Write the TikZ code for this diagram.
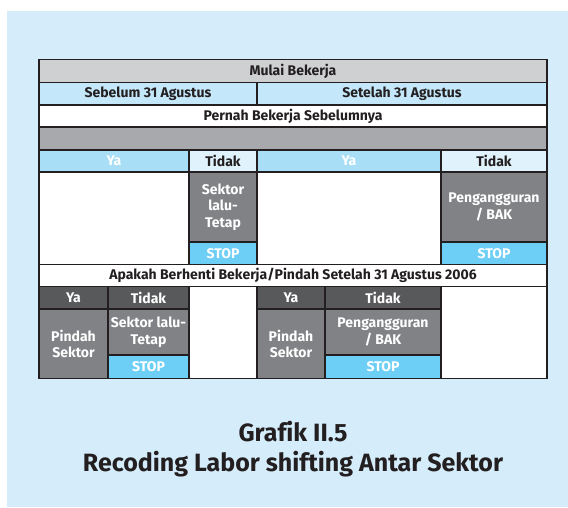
\documentclass[tikz,border=0pt]{standalone}
\usepackage{fontspec}
\setmainfont[Ligatures=NoCommon]{Fira Sans}
\usepackage{tikz}
\usepackage{xcolor}

\definecolor{bgblue}{HTML}{D5EDFA}
\definecolor{linec}{HTML}{231F20}
\definecolor{lgray}{HTML}{CFD0D2}
\definecolor{mgray}{HTML}{A7A9AC}
\definecolor{dgray}{HTML}{808285}
\definecolor{hgray}{HTML}{58595B}
\definecolor{rowblue}{HTML}{C4E8F9}
\definecolor{yablue}{HTML}{A9DEF7}
\definecolor{tdkblue}{HTML}{E0F3FC}
\definecolor{stopc}{HTML}{6DCFF6}

\begin{document}
\begin{tikzpicture}[x=1pt,y=-1pt,
  cell/.style={draw=linec,line width=1.2pt,inner sep=0pt,align=center,
    font=\fontsize{14}{16.5}\selectfont\bfseries,text=linec},
  wcell/.style={cell,text=white},
  title/.style={font=\fontsize{25}{29}\selectfont\bfseries,text=linec}]
\useasboundingbox (0,0) rectangle (568,507);
\fill[bgblue] (7.4,10.8) rectangle (568,507);
%\node at (293,30) {};
\node[cell,fill=lgray,minimum width=508,minimum height=23] (mulai) at (293,71) {Mulai Bekerja};
\node[cell,fill=rowblue,minimum width=218,minimum height=22.5] (sebelum) at (148,93.75) {Sebelum 31 Agustus};
\node[cell,fill=rowblue,minimum width=290,minimum height=22.5] (setelah) at (402,93.75) {Setelah 31 Agustus};
\node[cell,fill=white,minimum width=508,minimum height=22] (pernah) at (293,116) {Pernah Bekerja Sebelumnya};
\node[cell,fill=mgray,minimum width=508,minimum height=23] (kosong) at (293,138.5) {};
\node[wcell,fill=yablue,minimum width=150,minimum height=22] (ya1) at (114,161) {Ya};
\node[cell,fill=tdkblue,minimum width=68,minimum height=22] (tdk1) at (223,161) {Tidak};
\node[wcell,fill=yablue,minimum width=184,minimum height=22] (ya2) at (349,161) {Ya};
\node[cell,fill=tdkblue,minimum width=106,minimum height=22] (tdk2) at (494,161) {Tidak};
\node[cell,fill=white,minimum width=150,minimum height=92.5] (blank1) at (114,218.25) {};
\node[wcell,fill=dgray,minimum width=68,minimum height=70] (sektor1) at (223,207) {Sektor\\lalu-\\Tetap};
\node[wcell,fill=stopc,minimum width=68,minimum height=22.5] (stop1) at (223,253.25) {STOP};
\node[cell,fill=white,minimum width=184,minimum height=92.5] (blank2) at (349,218.25) {};
\node[wcell,fill=dgray,minimum width=106,minimum height=70] (peng1) at (494,207) {Pengangguran\\/ BAK};
\node[wcell,fill=stopc,minimum width=106,minimum height=22.5] (stop2) at (494,253.25) {STOP};
\node[cell,fill=white,minimum width=508,minimum height=22] (apakah) at (293,275.5) {Apakah Berhenti Bekerja/Pindah Setelah 31 Agustus 2006};
\node[wcell,fill=hgray,minimum width=69,minimum height=22.5] (ya3) at (73.5,297.75) {Ya};
\node[wcell,fill=hgray,minimum width=81,minimum height=22.5] (tdk3) at (148.5,297.75) {Tidak};
\node[cell,fill=white,minimum width=68,minimum height=92] (blank3) at (223,332.5) {};
\node[wcell,fill=hgray,minimum width=68,minimum height=22.5] (ya4) at (291,297.75) {Ya};
\node[wcell,fill=hgray,minimum width=116,minimum height=22.5] (tdk4) at (383,297.75) {Tidak};
\node[cell,fill=white,minimum width=106,minimum height=92] (blank4) at (494,332.5) {};
\node[wcell,fill=dgray,minimum width=69,minimum height=69.5] (pindah1) at (73.5,343.75) {Pindah\\Sektor};
\node[wcell,fill=dgray,minimum width=81,minimum height=46] (sektor2) at (148.5,332) {Sektor lalu-\\Tetap};
\node[wcell,fill=stopc,minimum width=81,minimum height=23.5] (stop3) at (148.5,366.75) {STOP};
\node[wcell,fill=dgray,minimum width=68,minimum height=69.5] (pindah2) at (291,343.75) {Pindah\\Sektor};
\node[wcell,fill=dgray,minimum width=116,minimum height=46] (peng2) at (383,332) {Pengangguran\\/ BAK};
\node[wcell,fill=stopc,minimum width=116,minimum height=23.5] (stop4) at (383,366.75) {STOP};
\node[title] (grafik) at (293,432) {Grafik II.5};
\node[title] (judul) at (293,464) {Recoding Labor shifting Antar Sektor};
\end{tikzpicture}
\end{document}
